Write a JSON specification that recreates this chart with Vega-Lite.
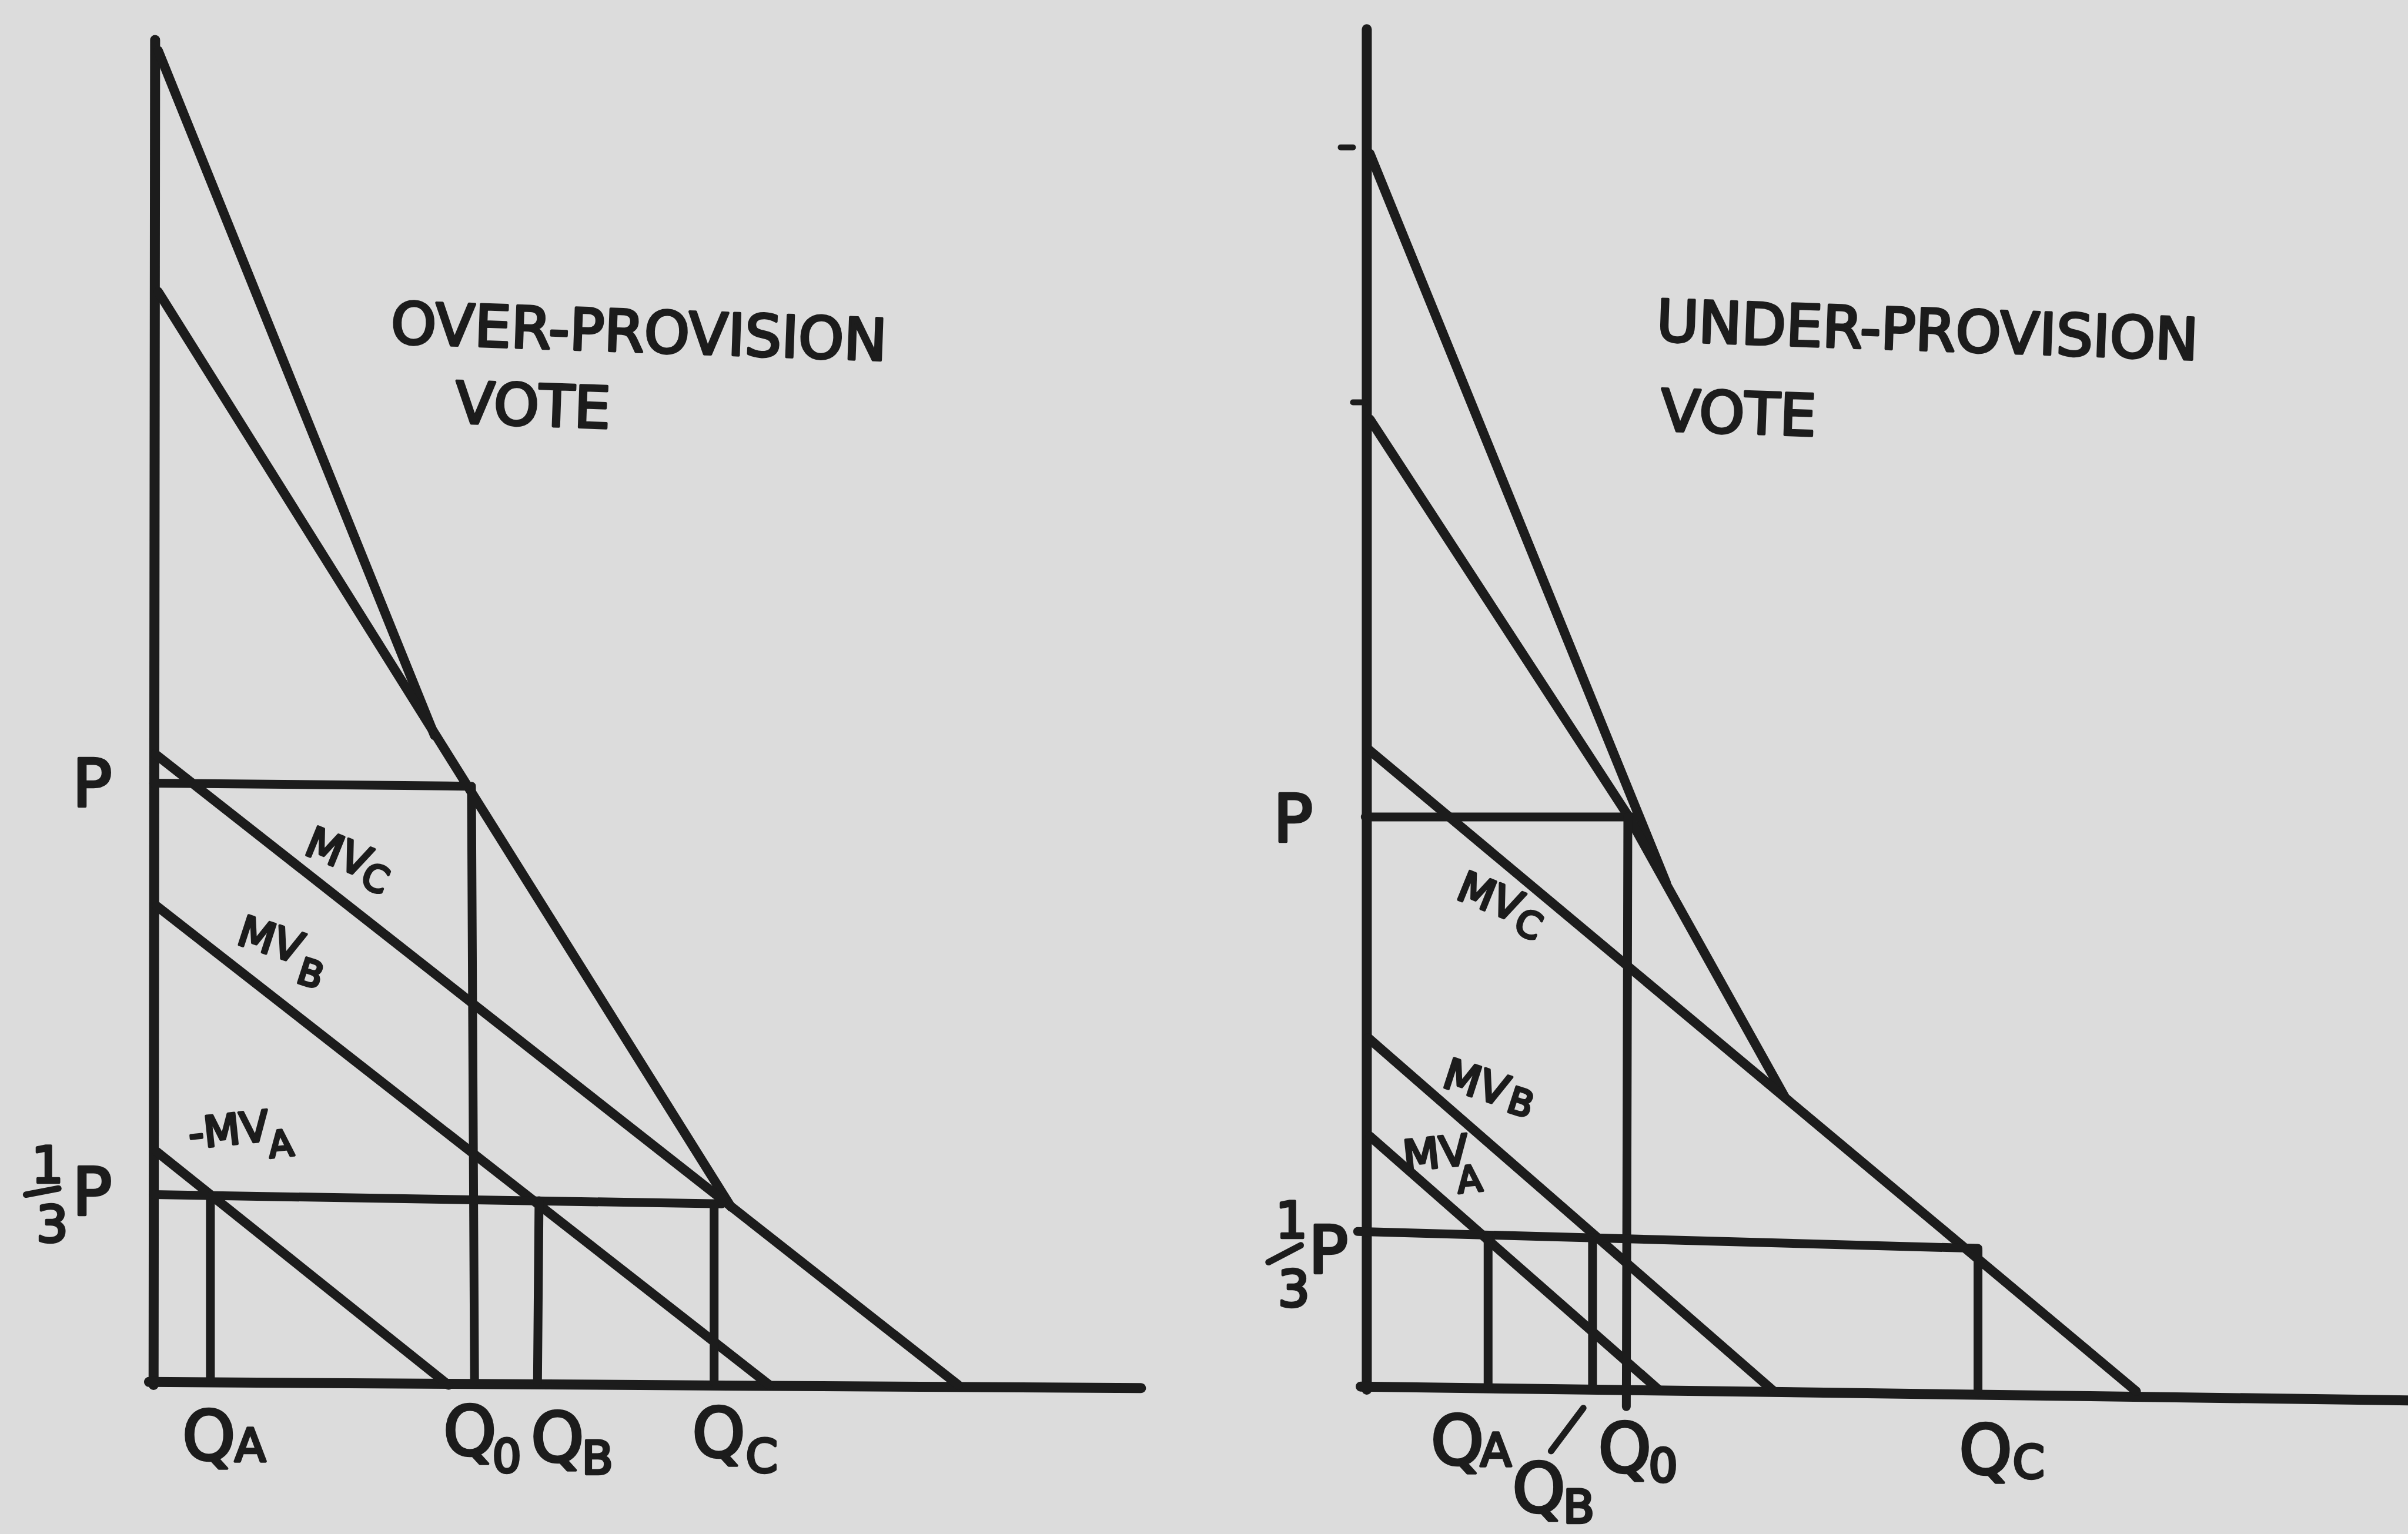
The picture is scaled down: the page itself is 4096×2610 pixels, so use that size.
{
  "$schema": "https://vega.github.io/schema/vega-lite/v6.json",
  "background": "#dcdcdc",
  "padding": 0,
  "spacing": 0,
  "config": {"view": {"stroke": null}},
  "datasets": {
    "left_strokes": [
      {"kind": "axis", "q1": 0, "p1": -0.2, "q2": 0.1, "p2": 87.4},
      {"kind": "axis", "q1": -0.3, "p1": 0, "q2": 64.3, "p2": -0.4},
      {"kind": "demand", "q1": 0.3, "p1": 86.7, "q2": 18.3, "p2": 42.1},
      {"kind": "demand", "q1": 0.3, "p1": 71.0, "q2": 37.6, "p2": 11.4},
      {"kind": "demand", "q1": 0.1, "p1": 40.9, "q2": 52.4, "p2": -0.2},
      {"kind": "demand", "q1": 0.2, "p1": 31.0, "q2": 40.1, "p2": -0.2},
      {"kind": "demand", "q1": 0.2, "p1": 15.0, "q2": 19.2, "p2": -0.2},
      {"kind": "guide", "q1": 0, "p1": 39.0, "q2": 20.5, "p2": 38.8},
      {"kind": "guide", "q1": 20.7, "p1": 38.8, "q2": 20.9, "p2": 0},
      {"kind": "guide", "q1": 0, "p1": 12.2, "q2": 37.0, "p2": 11.6},
      {"kind": "guide", "q1": 3.7, "p1": 12.1, "q2": 3.7, "p2": 0},
      {"kind": "guide", "q1": 25.1, "p1": 11.8, "q2": 25.0, "p2": 0},
      {"kind": "guide", "q1": 36.5, "p1": 11.6, "q2": 36.5, "p2": 0},
      {"kind": "glyph", "q1": -8.3, "p1": 12.2, "q2": -6.2, "p2": 12.6}
    ],
    "left_labels": [
      {"text": "OVER-PROVISION", "q": 31.6, "p": 68.2, "role": "title", "tag": "title"},
      {"text": "VOTE", "q": 24.7, "p": 63.4, "role": "title", "tag": "title"},
      {"text": "P", "q": -4.0, "p": 38.8, "role": "price", "tag": "flat"},
      {"text": "1", "q": -6.9, "p": 14.0, "role": "frac", "tag": "flat"},
      {"text": "3", "q": -6.6, "p": 10.1, "role": "frac", "tag": "flat"},
      {"text": "P", "q": -4.0, "p": 12.2, "role": "price", "tag": "flat"},
      {"text": "Q", "q": 3.6, "p": -3.7, "role": "qty", "tag": "flat"},
      {"text": "A", "q": 6.3, "p": -4.3, "role": "qsub", "tag": "flat"},
      {"text": "Q", "q": 20.6, "p": -3.4, "role": "qty", "tag": "flat"},
      {"text": "0", "q": 23.0, "p": -5.0, "role": "qsub", "tag": "flat"},
      {"text": "Q", "q": 26.3, "p": -3.8, "role": "qty", "tag": "flat"},
      {"text": "B", "q": 28.9, "p": -5.1, "role": "qsub", "tag": "flat"},
      {"text": "Q", "q": 36.8, "p": -3.5, "role": "qty", "tag": "flat"},
      {"text": "C", "q": 39.6, "p": -5.0, "role": "qsub", "tag": "flat"},
      {"text": "MV", "q": 12.0, "p": 34.4, "role": "curve", "tag": "MV_C"},
      {"text": "C", "q": 14.4, "p": 32.7, "role": "csub", "tag": "MV_C"},
      {"text": "MV", "q": 7.6, "p": 28.7, "role": "curve", "tag": "MV_B"},
      {"text": "B", "q": 10.2, "p": 26.5, "role": "csub", "tag": "MV_B"},
      {"text": "-MV", "q": 4.9, "p": 16.3, "role": "curve", "tag": "MV_A"},
      {"text": "A", "q": 8.3, "p": 15.4, "role": "csub", "tag": "MV_A"}
    ],
    "right_strokes": [
      {"kind": "axis", "q1": 0.1, "p1": -0.1, "q2": 0.1, "p2": 88.5},
      {"kind": "axis", "q1": -0.3, "p1": 0.1, "q2": 68.1, "p2": -0.8},
      {"kind": "tick", "q1": -1.6, "p1": 80.8, "q2": -0.8, "p2": 80.8},
      {"kind": "tick", "q1": -0.8, "p1": 64.2, "q2": 0, "p2": 64.2},
      {"kind": "demand", "q1": 0.3, "p1": 80.4, "q2": 19.6, "p2": 32.9},
      {"kind": "demand", "q1": 0.3, "p1": 63.1, "q2": 17.1, "p2": 37.3},
      {"kind": "demand", "q1": 17.1, "p1": 37.3, "q2": 27.3, "p2": 19.0},
      {"kind": "demand", "q1": 0.2, "p1": 41.6, "q2": 50.2, "p2": -0.2},
      {"kind": "demand", "q1": 0.2, "p1": 22.8, "q2": 26.6, "p2": -0.2},
      {"kind": "demand", "q1": 0.3, "p1": 16.4, "q2": 19.1, "p2": -0.1},
      {"kind": "guide", "q1": 0, "p1": 37.2, "q2": 17.8, "p2": 37.2},
      {"kind": "guide", "q1": 17.1, "p1": 37.2, "q2": 17.0, "p2": -1.2},
      {"kind": "guide", "q1": -0.5, "p1": 10.2, "q2": 39.9, "p2": 9.1},
      {"kind": "guide", "q1": 8.0, "p1": 9.9, "q2": 8.0, "p2": 0},
      {"kind": "guide", "q1": 14.8, "p1": 9.6, "q2": 14.8, "p2": -0.1},
      {"kind": "guide", "q1": 39.9, "p1": 9.0, "q2": 39.9, "p2": -0.3},
      {"kind": "glyph", "q1": -6.3, "p1": 8.2, "q2": -4.2, "p2": 9.3},
      {"kind": "glyph", "q1": 12.1, "p1": -4.1, "q2": 14.2, "p2": -1.3}
    ],
    "right_labels": [
      {"text": "UNDER-PROVISION", "q": 36.6, "p": 68.7, "role": "title", "tag": "title"},
      {"text": "VOTE", "q": 24.3, "p": 63.3, "role": "title", "tag": "title"},
      {"text": "P", "q": -4.7, "p": 36.9, "role": "price", "tag": "flat"},
      {"text": "1", "q": -4.8, "p": 10.8, "role": "frac", "tag": "flat"},
      {"text": "3", "q": -4.65, "p": 6.3, "role": "frac", "tag": "flat"},
      {"text": "P", "q": -2.4, "p": 8.8, "role": "price", "tag": "flat"},
      {"text": "Q", "q": 6.0, "p": -3.6, "role": "qty", "tag": "flat"},
      {"text": "A", "q": 8.5, "p": -4.2, "role": "qsub", "tag": "flat"},
      {"text": "Q", "q": 11.3, "p": -6.7, "role": "qty", "tag": "flat"},
      {"text": "B", "q": 13.9, "p": -7.9, "role": "qsub", "tag": "flat"},
      {"text": "Q", "q": 16.9, "p": -4.1, "role": "qty", "tag": "flat"},
      {"text": "0", "q": 19.4, "p": -5.2, "role": "qsub", "tag": "flat"},
      {"text": "Q", "q": 40.4, "p": -4.2, "role": "qty", "tag": "flat"},
      {"text": "C", "q": 43.2, "p": -5.0, "role": "qsub", "tag": "flat"},
      {"text": "MV", "q": 8.1, "p": 31.9, "role": "curve", "tag": "MV_C"},
      {"text": "C", "q": 10.6, "p": 30.1, "role": "csub", "tag": "MV_C"},
      {"text": "MV", "q": 7.2, "p": 19.8, "role": "curve", "tag": "MV_B"},
      {"text": "B", "q": 10.1, "p": 18.5, "role": "csub", "tag": "MV_B"},
      {"text": "MV", "q": 4.6, "p": 15.2, "role": "curve", "tag": "MV_A"},
      {"text": "A", "q": 6.8, "p": 13.5, "role": "csub", "tag": "MV_A"}
    ]
  },
  "hconcat": [
    {
      "width": 2048,
      "height": 2610,
      "layer": [
        {
          "data": {"name": "left_strokes"},
          "mark": {"type": "rule", "color": "#1c1c1c", "strokeCap": "round", "clip": true},
          "encoding": {
            "x": {"field": "q1", "type": "quantitative", "scale": {"domain": [-10, 68.4], "nice": false, "zero": false}, "axis": null},
            "y": {"field": "p1", "type": "quantitative", "scale": {"domain": [-9.9, 90], "nice": false, "zero": false}, "axis": null},
            "x2": {"field": "q2"},
            "y2": {"field": "p2"},
            "strokeWidth": {"field": "kind", "type": "nominal", "scale": {"type": "ordinal", "domain": ["axis", "demand", "guide", "tick", "glyph"], "range": [17, 16, 15, 10, 11]}, "legend": null}
          }
        },
        {
          "data": {"name": "left_labels"},
          "mark": {"type": "text", "font": "DejaVu Sans", "color": "#1c1c1c", "stroke": "#1c1c1c", "strokeWidth": 4.5, "strokeJoin": "round", "align": "center", "baseline": "middle"},
          "encoding": {
            "x": {"field": "q", "type": "quantitative", "scale": {"domain": [-10, 68.4], "nice": false, "zero": false}, "axis": null},
            "y": {"field": "p", "type": "quantitative", "scale": {"domain": [-9.9, 90], "nice": false, "zero": false}, "axis": null},
            "text": {"field": "text"},
            "size": {"field": "role", "type": "nominal", "scale": {"type": "ordinal", "domain": ["title", "price", "frac", "qty", "qsub", "curve", "csub"], "range": [98, 112, 86, 115, 78, 72, 62]}, "legend": null},
            "angle": {"field": "tag", "type": "nominal", "scale": {"type": "ordinal", "domain": ["title", "flat", "MV_C", "MV_B", "MV_A"], "range": [2, 0, 22, 18, 354]}, "legend": null}
          }
        }
      ]
    },
    {
      "width": 2048,
      "height": 2610,
      "layer": [
        {
          "data": {"name": "right_strokes"},
          "mark": {"type": "rule", "color": "#1c1c1c", "strokeCap": "round", "clip": true},
          "encoding": {
            "x": {"field": "q1", "type": "quantitative", "scale": {"domain": [-10.5, 67.9], "nice": false, "zero": false}, "axis": null},
            "y": {"field": "p1", "type": "quantitative", "scale": {"domain": [-9.5, 90.4], "nice": false, "zero": false}, "axis": null},
            "x2": {"field": "q2"},
            "y2": {"field": "p2"},
            "strokeWidth": {"field": "kind", "type": "nominal", "scale": {"type": "ordinal", "domain": ["axis", "demand", "guide", "tick", "glyph"], "range": [17, 16, 15, 10, 11]}, "legend": null}
          }
        },
        {
          "data": {"name": "right_labels"},
          "mark": {"type": "text", "font": "DejaVu Sans", "color": "#1c1c1c", "stroke": "#1c1c1c", "strokeWidth": 4.5, "strokeJoin": "round", "align": "center", "baseline": "middle"},
          "encoding": {
            "x": {"field": "q", "type": "quantitative", "scale": {"domain": [-10.5, 67.9], "nice": false, "zero": false}, "axis": null},
            "y": {"field": "p", "type": "quantitative", "scale": {"domain": [-9.5, 90.4], "nice": false, "zero": false}, "axis": null},
            "text": {"field": "text"},
            "size": {"field": "role", "type": "nominal", "scale": {"type": "ordinal", "domain": ["title", "price", "frac", "qty", "qsub", "curve", "csub"], "range": [98, 112, 86, 115, 78, 72, 62]}, "legend": null},
            "angle": {"field": "tag", "type": "nominal", "scale": {"type": "ordinal", "domain": ["title", "flat", "MV_C", "MV_B", "MV_A"], "range": [2.5, 0, 20, 18, 30]}, "legend": null}
          }
        }
      ]
    }
  ]
}
